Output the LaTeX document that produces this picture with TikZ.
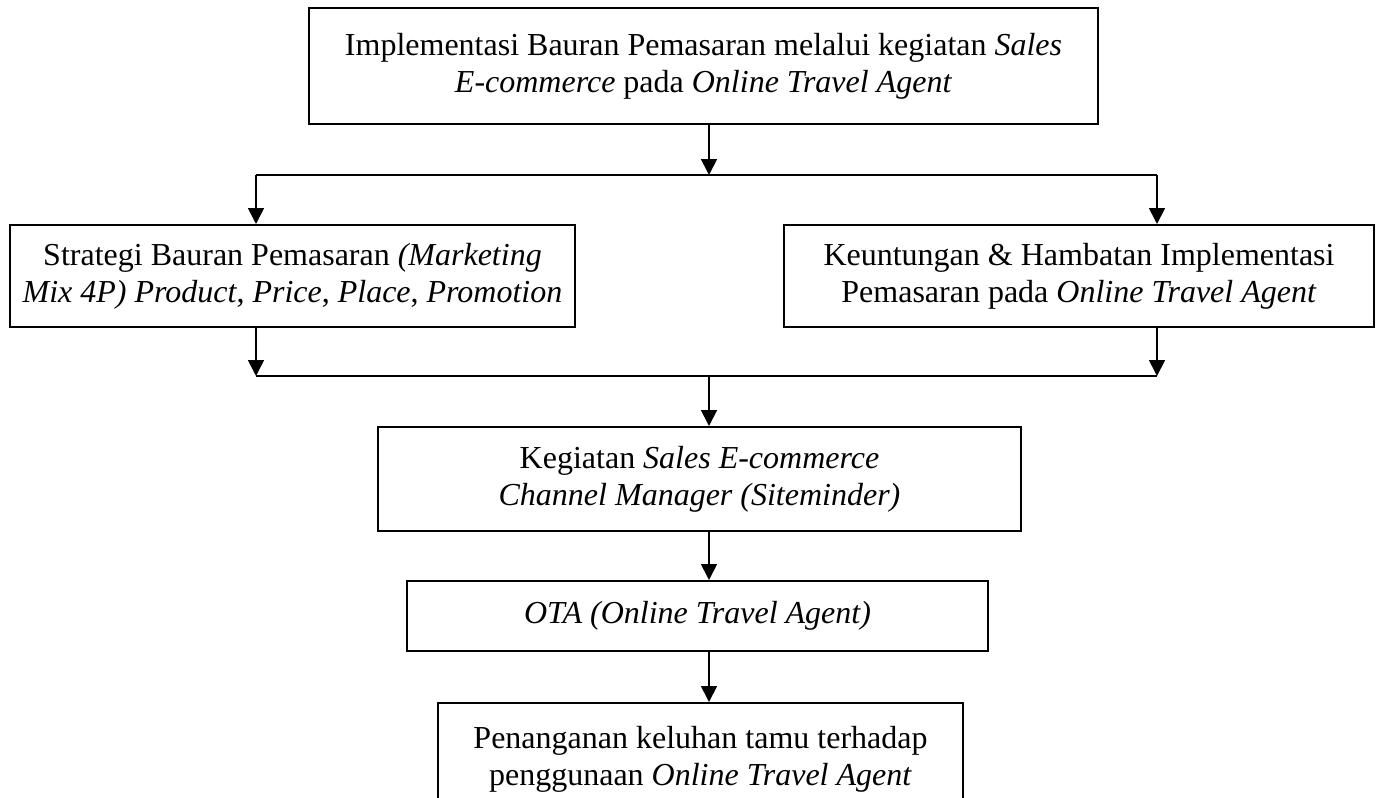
\documentclass[tikz,border=0pt]{standalone}
\usepackage{fontspec}
\setmainfont{Liberation Serif}
\usetikzlibrary{arrows.meta}
\begin{document}
\begin{tikzpicture}[x=0.5pt,y=-0.5pt,
  box/.style={draw,line width=1pt,rectangle,inner sep=0pt,align=center,
    font=\fontsize{16}{18.5}\selectfont},
  conn/.style={line width=0.9pt},
  arr/.style={conn,-{Triangle[width=8pt,length=8pt]}}]
\clip (0,0) rectangle (1382,798);
\fill[white] (0,0) rectangle (1382,798);
\node[box,minimum width=394.5pt,minimum height=58pt] (top) at (703.5,66)
  {Implementasi Bauran Pemasaran melalui kegiatan \textit{Sales}\\ \textit{E-commerce} pada \textit{Online Travel Agent}};
\node[box,minimum width=282.5pt,minimum height=51pt] (left) at (292.5,276)
  {Strategi Bauran Pemasaran \textit{(Marketing}\\ \textit{Mix 4P) Product}, \textit{Price}, \textit{Place}, \textit{Promotion}};
\node[box,minimum width=295pt,minimum height=51pt] (right) at (1079,276)
  {Keuntungan \& Hambatan Implementasi\\ Pemasaran pada \textit{Online Travel Agent}};
\node[box,minimum width=321.5pt,minimum height=52pt] (keg) at (699.5,479)
  {Kegiatan \textit{Sales E-commerce}\\ \textit{Channel Manager (Siteminder)}};
\node[box,minimum width=290.5pt,minimum height=35pt] (ota) at (697.5,616)
  {\textit{OTA (Online Travel Agent)}};
\node[box,minimum width=262.5pt,minimum height=56pt] (bot) at (700.5,759)
  {Penanganan keluhan tamu terhadap\\ penggunaan \textit{Online Travel Agent}};
\coordinate (j1) at (709,175);
\coordinate (jl) at (256,175);
\coordinate (jr) at (1157,175);
\coordinate (k1) at (709,376);
\coordinate (kl) at (256,376);
\coordinate (kr) at (1157,376);
\draw[arr] (top.south -| j1) -- (j1);
\draw[conn] (jl) -- (jr);
\draw[arr] (jl) -- (left.north -| jl);
\draw[arr] (jr) -- (right.north -| jr);
\draw[arr] (left.south -| kl) -- (kl);
\draw[arr] (right.south -| kr) -- (kr);
\draw[conn] (kl) -- (kr);
\draw[arr] (k1) -- (keg.north -| k1);
\draw[arr] (keg.south -| k1) -- (ota.north -| k1);
\draw[arr] (ota.south -| k1) -- (bot.north -| k1);
\end{tikzpicture}
\end{document}
